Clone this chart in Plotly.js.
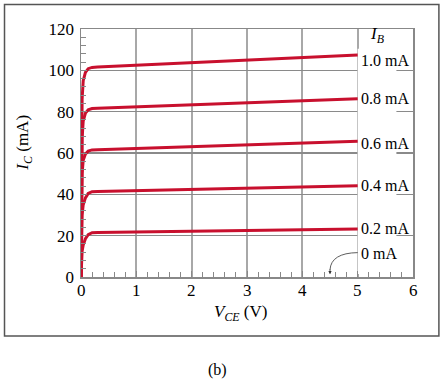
<!DOCTYPE html>
<html>
<head>
<meta charset="utf-8">
<script src="https://cdn.plot.ly/plotly-3.0.1.min.js"></script>
<style>html,body{margin:0;padding:0;background:#fff;}#chart{width:444px;height:385px;}</style>
</head>
<body>
<div id="chart"></div>
<script>
// V_CE sample points (V)
const vce = [0, 0.005, 0.02, 0.04, 0.08, 0.13, 0.2, 0.3, 5];
// I_C (mA) for each base current
const ic10 = [0, 60, 86, 95, 99, 100.8, 101.4, 101.6, 107.4];
const ic08 = [0, 46, 67, 75.5, 79.3, 80.9, 81.5, 81.7, 86.3];
const ic06 = [0, 33, 50, 56.5, 59.5, 60.9, 61.5, 61.6, 65.7];
const ic04 = [0, 17, 30, 35, 38.3, 40.4, 41.3, 41.4, 44.1];
const ic02 = [0, 7.4, 12.5, 15.5, 18.5, 20.5, 21.4, 21.5, 23.2];
const series = [ic10, ic08, ic06, ic04, ic02];
const ibLabels = ['1.0 mA', '0.8 mA', '0.6 mA', '0.4 mA', '0.2 mA'];
const labelY = [105, 86.3, 64.6, 44.4, 23.6];
const zeroLabel = '0 mA';
const zeroLabelY = 11.6;
const arrowX = 4.5;
const xTickVals = [0, 1, 2, 3, 4, 5, 6];
const xTickText = ['0', '1', '2', '3', '4', '5', '6'];

const red = '#c8102e';
const font = "'Liberation Serif', 'Times New Roman', serif";

const traces = series.map((ys, i) => ({
  x: vce, y: ys, type: 'scatter', mode: 'lines',
  line: {color: red, width: 3, shape: 'linear'},
  hoverinfo: 'skip', showlegend: false
}));

const annotations = ibLabels.map((t, i) => ({
  x: 5.03, y: labelY[i], xref: 'x', yref: 'y', text: t, showarrow: false,
  xanchor: 'left', yanchor: 'middle', font: {family: font, size: 16, color: '#000'}
}));
annotations.push({x: 5.03, y: zeroLabelY, xref: 'x', yref: 'y', text: zeroLabel, showarrow: false,
  xanchor: 'left', yanchor: 'middle', font: {family: font, size: 16, color: '#000'}});
annotations.push({x: 5.18, y: 117, xref: 'x', yref: 'y', text: '<i>I</i><sub><i>B</i></sub>', showarrow: false,
  xanchor: 'left', yanchor: 'middle', font: {family: font, size: 17, color: '#000'}});
// x tick labels
xTickVals.forEach((v, i) => annotations.push({x: v, y: 0, xref: 'x', yref: 'y', yshift: -13,
  text: xTickText[i], showarrow: false, xanchor: 'center', yanchor: 'middle',
  font: {family: font, size: 17, color: '#000'}}));
// arrowhead for 0 mA
annotations.push({x: arrowX, y: 1.3, ax: arrowX, ay: 4.5, xref: 'x', yref: 'y', axref: 'x', ayref: 'y',
  text: '', showarrow: true, arrowhead: 2, arrowsize: 0.8, arrowwidth: 0.8, arrowcolor: '#333'});
// axis titles
annotations.push({x: 0.48, y: -0.145, xref: 'paper', yref: 'paper', showarrow: false,
  text: '<i>V</i><sub><i>CE</i></sub> (V)', xanchor: 'center', yanchor: 'middle',
  font: {family: font, size: 17, color: '#000'}});
annotations.push({x: -0.17, y: 0.54, xref: 'paper', yref: 'paper', showarrow: false, textangle: -90,
  text: '<i>I</i><sub><i>C</i></sub> (mA)', xanchor: 'center', yanchor: 'middle',
  font: {family: font, size: 17, color: '#000'}});
// caption
annotations.push({x: 0.41, y: -0.375, xref: 'paper', yref: 'paper', showarrow: false,
  text: '(b)', xanchor: 'center', yanchor: 'middle', font: {family: font, size: 16, color: '#000'}});

const shapes = [
  // white mask behind the labels
  {type: 'rect', layer: 'between', xref: 'x', yref: 'y', x0: 5.0, x1: 5.7, y0: 1.5, y1: 110.5,
   fillcolor: '#fff', line: {width: 0}},
  // curved leader for 0 mA
  {type: 'path', layer: 'above', xref: 'x', yref: 'y',
   path: 'M 5.0 11.8 Q 4.52 11.6 4.5 3.5', line: {color: '#333', width: 0.8}},
  // outer frame
  {type: 'rect', xref: 'paper', yref: 'paper', x0: -0.2304, x1: 1.078, y0: -0.2379, y1: 1.0988,
   line: {color: '#555', width: 1.5}, fillcolor: 'rgba(0,0,0,0)', layer: 'above'}
];

const layout = {
  width: 444, height: 385,
  margin: {l: 81, r: 31, t: 29, b: 108},
  paper_bgcolor: '#fff', plot_bgcolor: '#fff',
  font: {family: font, size: 16, color: '#000'},
  xaxis: {range: [0, 6], dtick: 1, tick0: 0, showgrid: true, gridcolor: '#a8a8a8', gridwidth: 1.8,
    zeroline: false, showline: true, linecolor: '#888', linewidth: 1.5, mirror: true,
    ticks: 'inside', ticklen: 6, tickcolor: '#888', showticklabels: false,
    minor: {dtick: 0.2, ticks: 'inside', ticklen: 5, tickcolor: '#888', showgrid: false},
    fixedrange: true},
  yaxis: {range: [0, 120], dtick: 20, tick0: 0, showgrid: true, gridcolor: '#8a8a8a', gridwidth: 1.2,
    zeroline: false, showline: true, linecolor: '#888', linewidth: 1.5, mirror: true,
    ticks: 'inside', ticklen: 6, tickcolor: '#888', ticklabelstandoff: 2,
    minor: {dtick: 4, ticks: 'inside', ticklen: 5, tickcolor: '#888', showgrid: false},
    tickfont: {family: font, size: 17, color: '#000'}, fixedrange: true},
  annotations: annotations,
  shapes: shapes
};

Plotly.newPlot('chart', traces, layout, {displayModeBar: false, staticPlot: true});
</script>
</body>
</html>
